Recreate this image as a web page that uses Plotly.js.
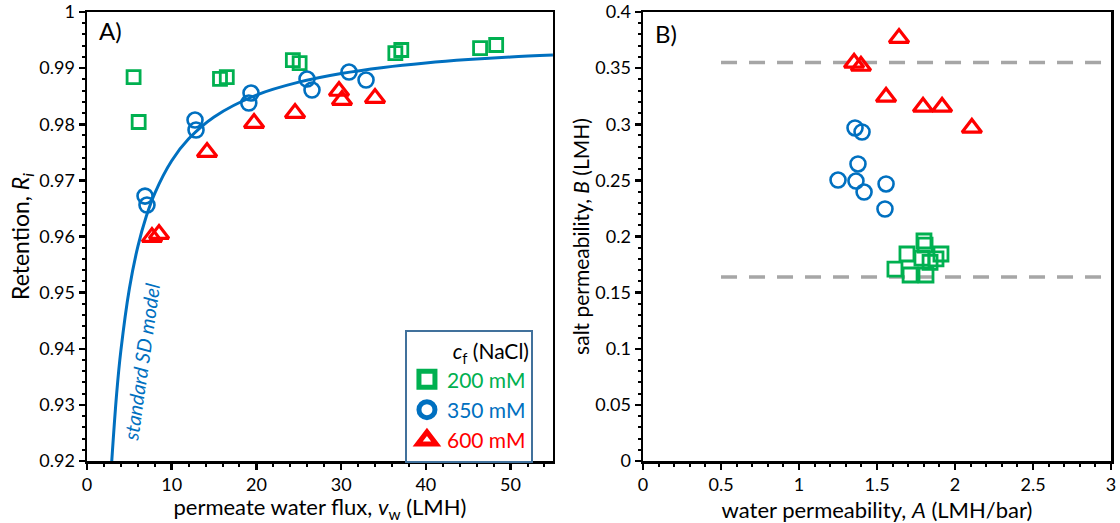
<!DOCTYPE html>
<html>
<head>
<meta charset="utf-8">
<script src="https://cdn.plot.ly/plotly-3.0.1.min.js"></script>
<style>html,body{margin:0;padding:0;background:#fff;}#chart{width:1120px;height:523px;}</style>
</head>
<body>
<div id="chart"></div>
<script>
// ---- Panel A: retention vs permeate water flux ----
const fluxA_200 = [5.5, 6.1, 15.7, 16.5, 24.3, 25.1, 36.4, 37.1, 46.4, 48.3];
const retA_200  = [0.9884, 0.9804, 0.9881, 0.9884, 0.99144, 0.9909, 0.99269, 0.99323, 0.99358, 0.99412];
const fluxA_350 = [6.85, 7.08, 12.75, 12.87, 19.36, 19.1, 25.97, 26.56, 30.93, 32.94];
const retA_350  = [0.9672, 0.9656, 0.98075, 0.97897, 0.98556, 0.98378, 0.98806, 0.9861, 0.9893, 0.98788];
const fluxA_600 = [7.67, 8.5, 14.17, 19.72, 24.56, 29.75, 30.1, 34.0];
const retA_600  = [0.95989, 0.96043, 0.97504, 0.98021, 0.982, 0.98592, 0.98431, 0.98467];
// standard SD model curve
const modelFlux = [2.9, 3.5, 4, 5, 6, 7, 8, 10, 12, 15, 20, 25, 30, 35, 40, 45, 50, 55];
const modelRet  = [0.9195, 0.932, 0.9397, 0.9507, 0.9582, 0.9636, 0.9677, 0.9735, 0.9774, 0.9813, 0.9852, 0.9875, 0.98905, 0.99013, 0.99092, 0.99152, 0.99198, 0.99233];

// ---- Panel B: salt permeability vs water permeability ----
const waterPermB_200 = [1.615, 1.692, 1.801, 1.808, 1.788, 1.878, 1.91, 1.712, 1.814, 1.84];
const saltPermB_200  = [0.171, 0.1844, 0.196, 0.1924, 0.1808, 0.18, 0.1844, 0.1657, 0.1657, 0.177];
const waterPermB_350 = [1.359, 1.404, 1.378, 1.25, 1.365, 1.417, 1.558, 1.551];
const saltPermB_350  = [0.2967, 0.2931, 0.2646, 0.2503, 0.2494, 0.2396, 0.2468, 0.2245];
const waterPermB_600 = [1.641, 1.353, 1.397, 1.558, 1.795, 1.917, 2.108];
const saltPermB_600  = [0.3768, 0.3546, 0.3519, 0.3243, 0.3154, 0.3154, 0.2967];
const boundX = [0.5, 3];
const upperBound = [0.355, 0.355];
const lowerBound = [0.164, 0.164];

const seriesNames = ['200 mM', '350 mM', '600 mM'];
const GREEN = '#00b050', BLUE = '#0070c0', RED = '#ff0000', GREY = '#a6a6a6';
const FONT = 'Lato, "Open Sans", sans-serif';

function pts(x, y, xa, ya, sym, col, size, lw) {
  return {x: x, y: y, xaxis: xa, yaxis: ya, type: 'scatter', mode: 'markers', showlegend: false,
    marker: {symbol: sym, size: size, color: col, line: {color: col, width: lw}}, hoverinfo: 'x+y'};
}
function legendTrace(name, sym, col) {
  return {x: [null], y: [null], xaxis: 'x', yaxis: 'y', type: 'scatter', mode: 'markers', name: '<span style="color:' + col + '">' + name + '</span>',
    marker: {symbol: sym, size: 16, color: col, line: {color: col, width: 5}}};
}

const traces = [
  {x: modelFlux, y: modelRet, xaxis: 'x', yaxis: 'y', type: 'scatter', mode: 'lines', showlegend: false,
   line: {color: BLUE, width: 3, shape: 'spline', smoothing: 1}},
  pts(fluxA_200, retA_200, 'x', 'y', 'square-open', GREEN, 13, 2.8),
  pts(fluxA_350, retA_350, 'x', 'y', 'circle-open', BLUE, 15, 2.6),
  pts(fluxA_600, retA_600, 'x', 'y', 'triangle-up-open', RED, 17, 3.2),
  {x: boundX, y: upperBound, xaxis: 'x2', yaxis: 'y2', type: 'scatter', mode: 'lines', showlegend: false,
   line: {color: GREY, width: 3.5, dash: '16px,12px'}},
  {x: boundX, y: lowerBound, xaxis: 'x2', yaxis: 'y2', type: 'scatter', mode: 'lines', showlegend: false,
   line: {color: GREY, width: 3.5, dash: '16px,12px'}},
  pts(waterPermB_200, saltPermB_200, 'x2', 'y2', 'square-open', GREEN, 14, 2.8),
  pts(waterPermB_350, saltPermB_350, 'x2', 'y2', 'circle-open', BLUE, 15, 2.6),
  pts(waterPermB_600, saltPermB_600, 'x2', 'y2', 'triangle-up-open', RED, 17, 3.2),
  legendTrace(seriesNames[0], 'square-open', GREEN),
  legendTrace(seriesNames[1], 'circle-open', BLUE),
  legendTrace(seriesNames[2], 'triangle-up-open', RED)
];

const axisCommon = {
  showgrid: false, zeroline: false, showline: true, linecolor: '#000', linewidth: 2.5, mirror: true,
  ticks: 'outside', ticklen: 6, tickwidth: 2.5, tickcolor: '#000',
  tickfont: {family: FONT, size: 18, color: '#000'}
};

const layout = {
  width: 1120, height: 523,
  margin: {l: 87, r: 9, t: 12, b: 62},
  paper_bgcolor: '#fff', plot_bgcolor: '#fff',
  font: {family: FONT, color: '#000'},
  xaxis: Object.assign({}, axisCommon, {domain: [0, 0.455], range: [0, 55], dtick: 10, tick0: 0,
    minor: {dtick: 2, ticks: 'outside', ticklen: 3, tickwidth: 2, tickcolor: '#000'},
    title: {text: 'permeate water flux, <i>v</i><sub>w</sub> (LMH)', font: {family: FONT, size: 22}}}),
  yaxis: Object.assign({}, axisCommon, {domain: [0, 1], range: [0.92, 1], dtick: 0.01, tick0: 0.92,
    minor: {dtick: 0.002, ticks: 'outside', ticklen: 3, tickwidth: 2, tickcolor: '#000'},
    title: {text: 'Retention, <i>R</i><sub><i>i</i></sub>', font: {family: FONT, size: 23}}}),
  xaxis2: Object.assign({}, axisCommon, {anchor: 'y2', domain: [0.543, 1], range: [0, 3], dtick: 0.5, tick0: 0,
    minor: {dtick: 0.1, ticks: 'outside', ticklen: 3, tickwidth: 2, tickcolor: '#000'},
    title: {text: 'water permeability, <i>A</i> (LMH/bar)', font: {family: FONT, size: 22}}}),
  yaxis2: Object.assign({}, axisCommon, {anchor: 'x2', domain: [0, 1], range: [0, 0.4], dtick: 0.05, tick0: 0,
    minor: {dtick: 0.01, ticks: 'outside', ticklen: 3, tickwidth: 2, tickcolor: '#000'},
    title: {text: 'salt permeability, <i>B</i> (LMH)', font: {family: FONT, size: 21}}}),
  showlegend: true,
  legend: {
    x: 0.3105, y: 0.292, xanchor: 'left', yanchor: 'top',
    bgcolor: '#fff', bordercolor: '#41719c', borderwidth: 2,
    font: {family: FONT, size: 21},
    title: {text: '<i>c</i><sub>f</sub> (NaCl)', side: 'top right', font: {family: FONT, size: 21, color: '#000'}},
    itemsizing: 'trace', tracegroupgap: 0, itemwidth: 30
  },
  annotations: [
    {text: 'A)', xref: 'paper', yref: 'paper', x: 0.0098, y: 0.958, xanchor: 'left', yanchor: 'middle', showarrow: false,
     font: {family: FONT, size: 24, color: '#000'}},
    {text: 'B)', xref: 'paper', yref: 'paper', x: 0.5527, y: 0.953, xanchor: 'left', yanchor: 'middle', showarrow: false,
     font: {family: FONT, size: 24, color: '#000'}},
    {text: '<i>standard SD model</i>', xref: 'paper', yref: 'paper', x: 0.0527, y: 0.221, xanchor: 'center', yanchor: 'middle',
     showarrow: false, textangle: -82, font: {family: FONT, size: 20, color: BLUE}}
  ]
};

Plotly.newPlot('chart', traces, layout, {staticPlot: true, displayModeBar: false});
</script>
</body>
</html>
